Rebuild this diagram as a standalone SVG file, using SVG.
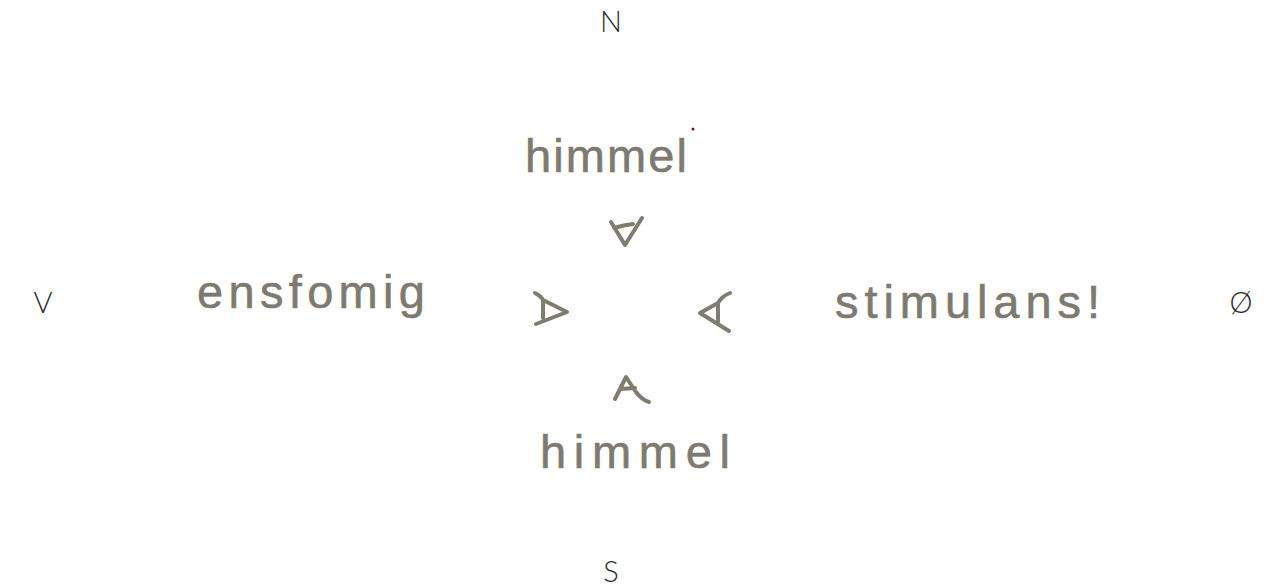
<svg xmlns="http://www.w3.org/2000/svg" width="1264" height="587" viewBox="0 0 1264 587">
<style>
.compass{font-family:"Lato","Open Sans","Liberation Sans",sans-serif;font-weight:300;font-size:29px;fill:#2a2a2a;text-anchor:middle}
.hand{font-family:"Liberation Sans","DejaVu Sans",sans-serif;font-size:47px;fill:#7e7a70;stroke:#7e7a70;stroke-width:0.6}
.eye{fill:none;stroke:#807c72;stroke-width:4;stroke-linecap:round;stroke-linejoin:round}
</style>
<rect width="1264" height="587" fill="#fff"/>
<g id="compass">
<text class="compass" x="611" y="32">N</text>
<text class="compass" x="611" y="582">S</text>
<text class="compass" x="43" y="313">V</text>
<text class="compass" x="1241" y="313">Ø</text>
</g>
<g id="node-top"><text class="hand" x="525" y="172" textLength="162" lengthAdjust="spacing">himmel</text></g>
<g id="node-left"><text class="hand" x="197" y="308" textLength="228" lengthAdjust="spacing">ensfomig</text></g>
<g id="node-right"><text class="hand" x="835" y="318" textLength="265" lengthAdjust="spacing">stimulans!</text></g>
<g id="node-bottom"><text class="hand" x="540" y="468" textLength="190" lengthAdjust="spacing">himmel</text></g>
<circle cx="693" cy="129" r="1.5" fill="#6b1a1a"/>
<g id="connectors">
<g id="eye-top"><path class="eye" d="M611 222 L625 245 L642 218 M614 228 Q624 225 633 224"/></g>
<g id="eye-left"><path class="eye" d="M535 293 Q541 296 543 300 L567 312 L536 324 M543 300 L543 318"/></g>
<g id="eye-right"><path class="eye" d="M730 293 Q722 296 718 303 L700 313 L729 331 M718 303 L718 322"/></g>
<g id="eye-bottom"><path class="eye" d="M615 399 L626 377 L636 392 Q642 400 649 402 M620 389 L635 388"/></g>
</g>
</svg>
